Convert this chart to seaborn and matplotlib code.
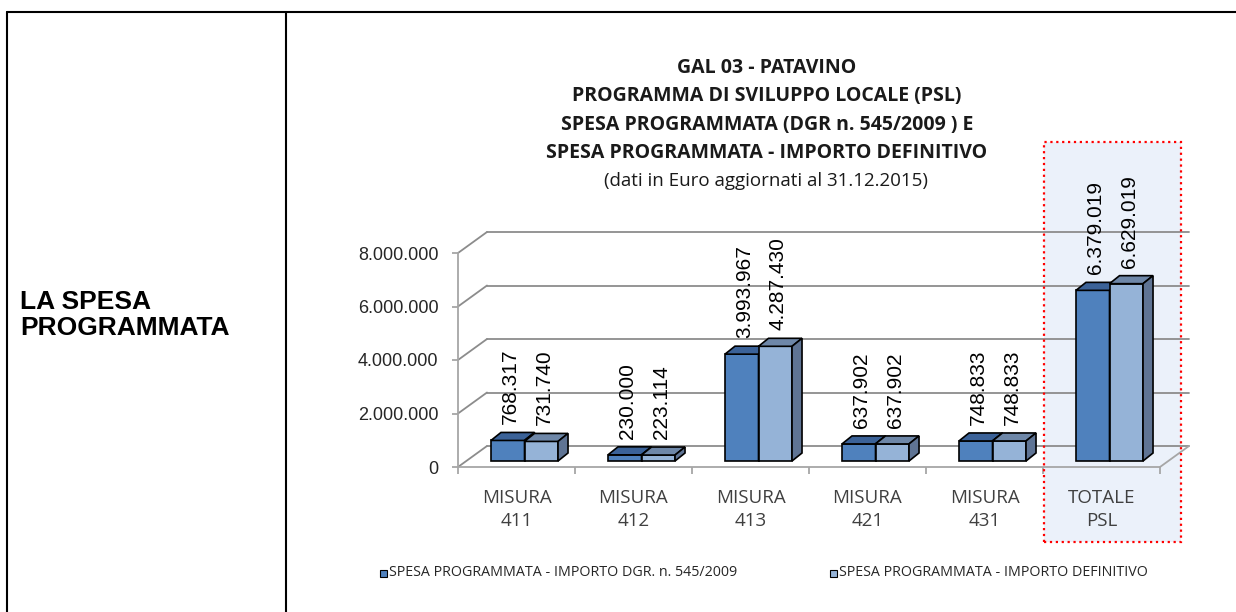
import matplotlib
matplotlib.use('Agg')
import matplotlib.pyplot as plt
import numpy as np
import pandas as pd
import seaborn as sns
from matplotlib.lines import Line2D
from matplotlib.patches import Polygon, Rectangle
from matplotlib.transforms import IdentityTransform, ScaledTranslation

# dati del grafico
categories = ['MISURA\n411', 'MISURA\n412', 'MISURA\n413', 'MISURA\n421', 'MISURA\n431', 'TOTALE\nPSL']
spesa_dgr = [768317, 230000, 3993967, 637902, 748833, 6379019]
spesa_def = [731740, 223114, 4287430, 637902, 748833, 6629019]
serie_dgr = 'SPESA PROGRAMMATA - IMPORTO DGR. n. 545/2009'
serie_def = 'SPESA PROGRAMMATA - IMPORTO DEFINITIVO'
y_ticks = [0, 2000000, 4000000, 6000000, 8000000]
title_lines = ['GAL 03 - PATAVINO',
               'PROGRAMMA DI SVILUPPO LOCALE (PSL)',
               'SPESA PROGRAMMATA (DGR n. 545/2009 ) E',
               'SPESA PROGRAMMATA - IMPORTO DEFINITIVO']
subtitle = '(dati in Euro aggiornati al 31.12.2015)'

W, H, DPI = 1236, 612, 100
C_DARK, C_LIGHT = '#4F81BD', '#95B3D7'
TOP_DARK, TOP_LIGHT = '#3B6298', '#6E87A8'
SIDE_DARK, SIDE_LIGHT = '#35557F', '#5F7494'
GRID = '#8C8C8C'
AXIS = '#A6A6A6'
CAL = ['Open Sans', 'DejaVu Sans']
ARIAL = ['Liberation Sans', 'DejaVu Sans']

sns.set_style('white')
plt.rcParams['font.family'] = CAL


def fx(px):
    return px / W


def fy(py):
    return 1 - py / H


fig = plt.figure(figsize=(W / DPI, H / DPI), dpi=DPI)

# cornice della tabella
for xs, ys in [([7, W], [12, 12]), ([7, 7], [12, H]), ([286, 286], [12, H])]:
    fig.add_artist(Line2D([fx(x) for x in xs], [fy(y) for y in ys], color='black', lw=1.5))
fig.text(fx(20), fy(315), 'LA SPESA\nPROGRAMMATA', family=ARIAL, weight='bold',
         fontsize=19, va='center', ha='left', linespacing=1.1, color='black')

ax = fig.add_axes([fx(458), fy(467), (1160 - 458) / W, (467 - 253) / H])
ax.set_facecolor('none')

df = pd.DataFrame({
    'categoria': categories * 2,
    'importo': spesa_dgr + spesa_def,
    'serie': [serie_dgr] * len(categories) + [serie_def] * len(categories),
})
sns.barplot(data=df, x='categoria', y='importo', hue='serie', order=categories,
            palette=[C_DARK, C_LIGHT], saturation=1, width=0.573,
            edgecolor='black', linewidth=1.2, legend=False, ax=ax)

ax.set_xlim(-0.5, len(categories) - 0.5)
ax.set_ylim(0, 8000000)
ax.set_xlabel('')
ax.set_ylabel('')

# effetto 3D: sposto le barre in profondità e aggiungo facce superiori/laterali
shift = np.array([8, 6])
depth = np.array([10, 8])
back = np.array([29, 21])
off = ScaledTranslation(shift[0] / DPI, shift[1] / DPI, fig.dpi_scale_trans)
faces = [(TOP_DARK, SIDE_DARK, 3), (TOP_LIGHT, SIDE_LIGHT, 4)]
for cont, (c_top, c_side, z) in zip(ax.containers, faces):
    for bar in cont:
        bar.set_transform(ax.transData + off)
        bar.set_zorder(z)
        x, w, h = bar.get_x(), bar.get_width(), bar.get_height()
        (X0, Y0), (X1, Y1) = ax.transData.transform([(x, 0), (x + w, h)]) + shift
        top = [(X0, Y1), (X1, Y1), (X1 + depth[0], Y1 + depth[1]), (X0 + depth[0], Y1 + depth[1])]
        side = [(X1, Y0), (X1, Y1), (X1 + depth[0], Y1 + depth[1]), (X1 + depth[0], Y0 + depth[1])]
        for pts, col in [(top, c_top), (side, c_side)]:
            p = Polygon(pts, closed=True, transform=IdentityTransform(), facecolor=col,
                        edgecolor='black', lw=1.2, zorder=z)
            ax.add_artist(p)
            p.set_clip_on(False)
        lab = f'{int(h):,}'.replace(',', '.')
        ax.annotate(lab, xy=(x + w / 2, h), xytext=(shift[0] + 3, shift[1] + depth[1] + 8),
                    textcoords='offset pixels', rotation=90, ha='center', va='bottom',
                    family=ARIAL, fontsize=15, color='black', zorder=6,
                    annotation_clip=False)

# pareti di fondo: griglia e diagonali
back_off = ScaledTranslation(back[0] / DPI, back[1] / DPI, fig.dpi_scale_trans)
for v in y_ticks:
    ax.add_line(Line2D([-0.5, len(categories) - 0.5], [v, v], color=GRID, lw=1.3,
                       transform=ax.transData + back_off, zorder=0.5, clip_on=False))
    P = ax.transData.transform((-0.5, v))
    ax.add_line(Line2D([P[0], P[0] + back[0]], [P[1], P[1] + back[1]], color=GRID, lw=1.3,
                       transform=IdentityTransform(), zorder=0.5, clip_on=False))
P = ax.transData.transform((len(categories) - 0.5, 0))
ax.add_line(Line2D([P[0], P[0] + back[0]], [P[1], P[1] + back[1]], color=AXIS, lw=1.3,
                   transform=IdentityTransform(), zorder=0.5, clip_on=False))

sns.despine(ax=ax, top=True, right=True)
for s in ['left', 'bottom']:
    ax.spines[s].set_color(AXIS)
    ax.spines[s].set_linewidth(1.3)

ax.set_yticks(y_ticks)
ax.set_yticklabels([f'{v:,}'.replace(',', '.') for v in y_ticks])
ax.tick_params(axis='y', length=4, width=1.3, color=AXIS, pad=10, labelsize=13,
               labelcolor='#262626', left=True)
for t in ax.get_yticklabels():
    t.set_family(ARIAL)
ax.set_xticks(range(len(categories)))
ax.set_xticklabels(categories, linespacing=1.37)
ax.set_xticks(np.arange(len(categories) + 1) - 0.5, minor=True)
ax.tick_params(axis='x', which='major', length=0, pad=16, labelsize=13.5, labelcolor='#404040')
ax.tick_params(axis='x', which='minor', length=5, width=1.3, color=AXIS, bottom=True)

# evidenziazione colonna totale
X45 = ax.transData.transform((len(categories) - 1.5, 0))[0]
fig.add_artist(Rectangle((fx(X45 + 1), fy(542)), 137 / W, 400 / H, facecolor='#EBF1FA',
                         edgecolor='none', zorder=-1))
fig.add_artist(Rectangle((fx(X45 + 1), fy(542)), 137 / W, 400 / H, facecolor='none',
                         edgecolor='red', lw=1.6, linestyle=':', zorder=2))

# titolo
for i, line in enumerate(title_lines):
    fig.text(fx(767), fy(68 + 28.5 * i), line, ha='center', va='center',
             weight='bold', fontsize=14, color='#1a1a1a')
fig.text(fx(766), fy(181), subtitle, ha='center', va='center', fontsize=13.5, color='#1a1a1a')

# legenda
for x0, serie, col in [(380, serie_dgr, C_DARK), (830, serie_def, C_LIGHT)]:
    fig.add_artist(Rectangle((fx(x0), fy(577)), 7 / W, 7 / H, facecolor=col,
                             edgecolor='black', lw=0.8))
    fig.text(fx(x0 + 9), fy(573), serie, ha='left', va='center', fontsize=10.3, color='#262626')

fig.savefig('out.png', dpi=DPI)
plt.close(fig)
